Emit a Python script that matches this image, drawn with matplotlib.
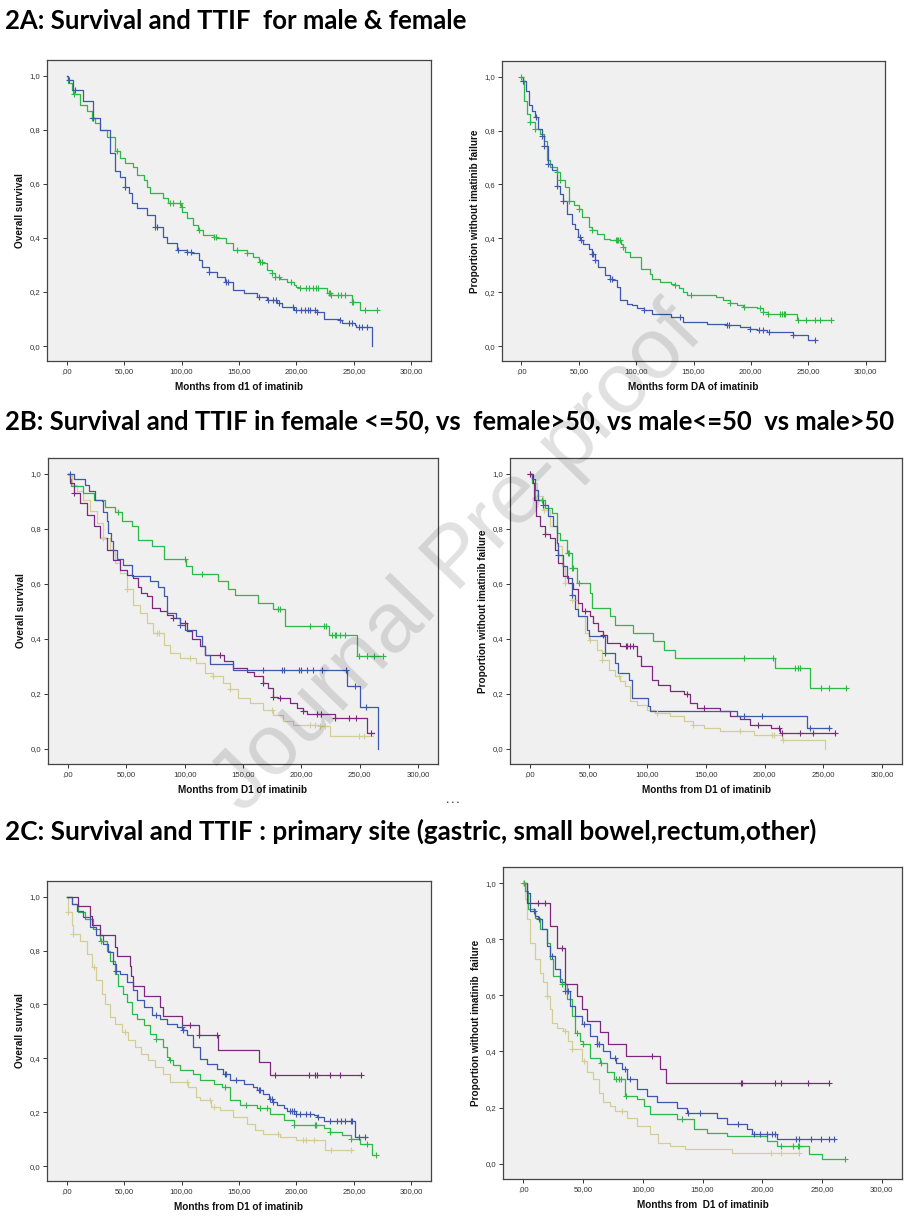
import numpy as np
import matplotlib
matplotlib.use('Agg')
import matplotlib.pyplot as plt

# ---------------- data ----------------
x_ticks = [0, 50, 100, 150, 200, 250, 300]
x_tick_labels = [',00', '50,00', '100,00', '150,00', '200,00', '250,00', '300,00']
y_ticks = [0.0, 0.2, 0.4, 0.6, 0.8, 1.0]
y_tick_labels = ['0,0', '0,2', '0,4', '0,6', '0,8', '1,0']

headings = ['2A: Survival and TTIF  for male & female',
            '2B: Survival and TTIF in female <=50, vs  female>50, vs male<=50  vs male>50',
            '2C: Survival and TTIF : primary site (gastric, small bowel,rectum,other)']

# 2A left: overall survival, male (blue) / female (green)
a_os_blue_t = [0, 1.5, 5.8, 14.5, 23, 29, 38, 42, 46.5, 51, 54, 56.6, 61, 70, 77, 84, 87, 96, 104.5, 109,
               115, 117.5, 123.5, 131, 138, 145, 154, 165.5, 174, 183, 187, 197.5, 218, 223.6, 238, 239.6, 251, 252, 266]
a_os_blue_s = [1.0, .985, .948, .905, .843, .80, .714, .646, .627, .59, .565, .528, .51, .485, .442, .405, .38, .355, .349, .343,
               .318, .294, .275, .257, .238, .207, .195, .183, .17, .158, .146, .133, .127, .10, .096, .086, .078, .069, 0.0]
a_os_blue_c = [2, 7, 23, 51, 77, 79, 97, 105, 108, 124, 139, 140, 167, 175, 180, 182, 185, 197, 200, 204, 207, 210,
               212, 216, 218, 238, 246, 248, 254, 257, 261]
a_os_green_t = [0, 1.5, 4.4, 6, 11.6, 17.4, 21.8, 24.7, 29, 35, 42, 46.5, 51, 58, 61, 67, 70, 72.6, 84, 88,
                99.5, 100.5, 104.5, 110, 114, 119, 128, 131, 139, 145, 157, 162.6, 167, 171, 174, 178.6, 181, 186, 192, 197.5,
                200, 203, 226.5, 229.4, 248, 255, 270]
a_os_green_s = [1.0, .973, .948, .932, .893, .868, .843, .825, .80, .775, .72, .695, .677, .664, .633, .615, .59, .565, .547, .528,
                .516, .497, .473, .448, .43, .411, .405, .399, .38, .356, .343, .331, .312, .306, .281, .269, .257, .25, .238, .226,
                .22, .214, .195, .189, .164, .133, .133]
a_os_green_c = [6.5, 22, 44, 90, 93, 99, 100, 115, 128, 130, 148, 157, 168, 170, 179, 181, 185, 195, 203, 208, 211, 214,
                217, 219, 228, 229, 230, 236, 239, 242, 248, 249, 260, 270]

# 2A right: time to imatinib failure
a_tf_blue_t = [0, 1.5, 3.5, 6.4, 9.3, 12, 14, 18, 20, 23, 26.7, 31, 34, 36, 40, 44, 47, 49, 51.4, 54,
               58.6, 61.5, 64.4, 67, 73, 77.5, 80, 83, 86, 92, 96, 100.7, 106.5, 114, 130, 141, 161.6, 179, 190.6, 199,
               205, 214, 237, 250, 256]
a_tf_blue_s = [1.0, .985, .948, .893, .874, .85, .806, .78, .744, .677, .652, .596, .565, .54, .49, .454, .436, .405, .395, .38,
               .362, .343, .318, .294, .263, .25, .244, .22, .17, .158, .152, .14, .133, .121, .109, .09, .084, .078, .072, .065,
               .059, .053, .04, .022, .022]
a_tf_blue_c = [1.5, 13, 18, 20, 23, 31, 36, 51, 52, 61.5, 62, 64.4, 77.5, 79, 106.5, 138, 179, 181, 199, 207, 211, 216, 237, 256]
a_tf_green_t = [0, 1.2, 2.6, 5, 7.8, 12, 16.5, 19.4, 22, 25, 31, 34, 38, 41, 45.5, 50, 53, 58.6, 61.5, 66,
                71.7, 77.5, 87, 88.5, 90.5, 95, 104.5, 112, 114, 121, 130, 134, 137, 141, 144, 170, 176, 182, 187.7, 193.5,
                205, 211, 215, 240.5, 270]
a_tf_green_s = [1.0, .985, .91, .86, .83, .806, .788, .763, .689, .664, .646, .615, .59, .54, .522, .51, .479, .442, .432, .417,
                .399, .393, .38, .368, .349, .331, .288, .269, .25, .238, .232, .226, .214, .201, .19, .183, .17, .16, .152, .146,
                .14, .127, .118, .096, .096]
a_tf_green_c = [0, 1.2, 7.8, 12, 31, 34, 41, 50, 61.5, 82, 83, 84, 86, 88.5, 134, 148, 182, 194, 208, 211, 215, 225, 227,
                229, 230, 241, 248, 256, 260, 270]

# 2B left: overall survival by sex and age group
b_os_green_t = [0, 2, 3, 13.4, 22, 32, 40, 46, 55, 60.5, 72, 82, 101, 106, 129, 137.5, 143, 163, 176, 186, 224, 248, 270]
b_os_green_s = [1.0, .98, .955, .93, .905, .88, .862, .83, .81, .76, .737, .689, .664, .636, .612, .58, .558, .53, .507, .446,
                .416, .337, .337]
b_os_green_c = [43, 100, 115, 180, 182, 207, 219, 221, 226, 229, 230, 233, 237, 249, 256, 262, 270]
b_os_blue_t = [0, 5, 15, 17.7, 23.4, 29, 30.5, 33.4, 34.8, 37, 39, 42, 47.6, 54.8, 70, 77.6, 82, 84.7, 93, 96,
               100, 110, 114.6, 117.5, 121.8, 141.7, 239, 250, 266]
b_os_blue_s = [1.0, .982, .96, .937, .905, .9, .862, .83, .786, .755, .725, .689, .67, .628, .61, .59, .555, .495, .476, .452,
               .434, .41, .373, .343, .307, .288, .23, .153, 0.0]
b_os_blue_c = [1.5, 96, 167, 183, 185, 198, 200, 205, 210, 218, 238, 246, 255]
b_os_purple_t = [0, 2, 5, 10.6, 16, 22, 27.7, 33.4, 39, 44.8, 50.5, 56, 60.5, 63, 67.6, 72, 79, 84.7, 90.4, 96,
                 102, 106, 113, 117.5, 134, 141.7, 153, 159, 167.4, 171.7, 176, 180, 190, 196, 201.6, 204.5, 229, 255.8, 262]
b_os_purple_s = [1.0, .967, .93, .895, .852, .81, .767, .725, .688, .652, .634, .622, .59, .567, .555, .513, .5, .488, .476, .458,
                 .43, .4, .373, .343, .319, .295, .279, .264, .24, .222, .19, .185, .167, .149, .137, .128, .113, .058, .058]
b_os_purple_c = [5, 90.4, 100, 130, 167.4, 176, 181.7, 201.6, 213, 217, 229, 241, 247, 260]
b_os_beige_t = [0, 3.4, 7.7, 13.4, 19, 24.8, 30.5, 36, 40.5, 44.8, 50.5, 56, 62, 67.6, 73.3, 82, 87.6, 96, 110, 117.5,
                124.6, 133, 139, 146, 156, 167.4, 176, 184.5, 193, 216, 224.5, 261.5]
b_os_beige_s = [1.0, .96, .937, .905, .864, .822, .767, .725, .676, .64, .58, .525, .495, .458, .42, .379, .349, .33, .313, .276,
                .264, .24, .216, .185, .167, .143, .125, .1, .088, .082, .048, .048]
b_os_beige_c = [30.5, 50.5, 76, 78, 104.7, 124.6, 139, 175, 207, 212, 216, 220, 249, 254]

# 2B right: time to imatinib failure by sex and age group
b_tf_green_t = [0, 1.4, 4.3, 12.8, 18.5, 22.7, 25.6, 31.3, 35.5, 40, 51, 52.6, 68.3, 72.5, 88, 105, 113.8, 123.7, 209, 239, 270]
b_tf_green_s = [1.0, .967, .907, .876, .858, .785, .761, .713, .658, .603, .567, .513, .482, .452, .422, .392, .361, .331, .295,
                .222, .222]
b_tf_green_c = [0, 10, 32, 33, 36, 37, 42, 182, 207, 226, 228, 230, 248, 255, 269]
b_tf_blue_t = [0, 1.4, 4.3, 7, 11.4, 15.6, 20, 22.7, 24, 28.4, 31.3, 35.5, 38.4, 41, 48.4, 50, 64, 72.5, 75, 84,
               86.7, 101, 102.4, 176, 236, 256]
b_tf_blue_s = [1.0, .98, .943, .907, .888, .846, .81, .75, .707, .664, .622, .561, .507, .482, .434, .41, .349, .313, .276, .252,
               .185, .155, .137, .119, .076, .076]
b_tf_blue_c = [11.4, 24, 35.5, 64, 182, 198, 239, 255]
b_tf_purple_t = [0, 2.3, 3.4, 5, 8.5, 12.8, 17, 21.3, 24, 28.4, 32.7, 37, 41, 44, 51, 54, 58.3, 62.6, 65.4, 76.8,
                 91, 95, 103.8, 109.5, 119.5, 131, 136.5, 142, 162, 170.6, 179, 187.7, 205, 213, 260]
b_tf_purple_s = [1.0, .967, .907, .846, .81, .78, .767, .725, .676, .628, .604, .58, .53, .5, .482, .458, .428, .416, .385, .373,
                 .337, .3, .252, .234, .21, .198, .167, .149, .137, .119, .107, .088, .076, .058, .058]
b_tf_purple_c = [0, 13, 47, 62.6, 82, 83, 85, 88, 134, 148, 194, 212, 215, 230, 241, 260]
b_tf_beige_t = [0, 1.4, 5.7, 11.4, 17, 22.7, 27, 30, 35.5, 41, 47, 50, 57, 61, 67, 72.5, 77, 81, 85.3, 91,
                99.5, 106.6, 119.4, 131, 139, 148, 162, 190.5, 214.7, 251.7]
b_tf_beige_s = [1.0, .967, .919, .87, .81, .737, .664, .603, .543, .482, .422, .397, .361, .325, .288, .264, .246, .228, .173, .161,
                .143, .131, .119, .1, .088, .076, .064, .052, .034, 0.0]
b_tf_beige_c = [12, 30, 36, 51, 61, 76, 108, 139, 179, 206, 208, 216]

# 2C left: overall survival by primary site
c_os_purple_t = [0, 10, 20, 22, 29, 42, 43.6, 55, 56, 58, 67, 81, 84, 100, 115, 132, 167, 177, 256]
c_os_purple_s = [1.0, .967, .93, .893, .856, .812, .781, .744, .707, .67, .63, .59, .558, .522, .485, .432, .386, .337, .337]
c_os_purple_c = [107, 115, 131, 181, 211, 216, 218, 229, 238, 256]
c_os_blue_t = [0, 4.4, 8.7, 14.5, 20.3, 26, 32, 36.3, 40.7, 43, 46.5, 52.3, 58, 61, 67, 74, 81, 87, 96, 101,
               104.5, 110, 116, 122, 131, 136.5, 142, 154, 162.6, 165.5, 171, 176, 180, 183, 189, 192, 200, 215, 218, 224,
               250.5, 261]
c_os_blue_s = [1.0, .973, .948, .923, .886, .856, .825, .794, .75, .725, .712, .683, .652, .615, .59, .56, .547, .528, .516, .507,
               .485, .442, .399, .38, .362, .343, .318, .306, .294, .281, .269, .25, .238, .226, .214, .205, .195, .189, .183, .167,
               .109, .109]
c_os_blue_c = [43, 78, 100, 101, 138, 139, 147, 167, 168, 177, 179, 180, 194, 196, 198, 200, 203, 208, 212, 219, 229, 235,
               239, 242, 247, 248, 254, 260]
c_os_green_t = [0, 4.4, 10, 16, 23, 29, 35, 37.8, 42, 45, 49.4, 52.3, 56.6, 61, 67, 72.6, 78, 84, 87, 89,
                93, 99, 110, 116, 128, 135, 142, 151, 165.5, 177, 189, 197.5, 223.6, 229.4, 240, 247, 255.6, 265.7, 269]
c_os_green_s = [1.0, .973, .942, .917, .88, .837, .8, .763, .713, .67, .64, .609, .565, .547, .522, .49, .473, .442, .405, .395,
                .374, .356, .343, .318, .306, .294, .244, .226, .214, .195, .17, .152, .14, .127, .115, .102, .084, .04, .04]
c_os_green_c = [30, 78, 90, 138, 156, 168, 174, 198, 216, 217, 229.4, 247, 261, 269]
c_os_beige_t = [0, 1.5, 4.4, 5.5, 11.6, 17.4, 21.8, 26, 30.5, 33.4, 37.8, 42, 48, 53.7, 59.5, 65, 71, 77, 84, 90,
                106, 113, 116, 126, 133.6, 145, 157, 164, 171, 186, 200, 225, 248]
c_os_beige_s = [1.0, .942, .893, .862, .837, .788, .738, .689, .64, .6, .553, .528, .497, .467, .442, .417, .393, .368, .343, .312,
                .294, .257, .244, .22, .207, .183, .158, .133, .121, .109, .096, .059, .059]
c_os_beige_c = [1.5, 6, 24, 51, 105, 125, 128, 184, 206, 208, 215, 230, 247]

# 2C right: time to imatinib failure by primary site
c_tf_purple_t = [0, 3.4, 22.4, 28.5, 35, 44.7, 49, 53, 64.3, 70.5, 86, 114.6, 119.7, 256]
c_tf_purple_s = [1.0, .93, .848, .77, .639, .598, .55, .509, .47, .428, .384, .337, .289, .289]
c_tf_purple_c = [12, 18, 32, 108, 182, 183, 211, 216, 238, 256]
c_tf_blue_t = [0, 2.8, 5.6, 9.8, 12.6, 15.4, 19.6, 22.4, 26.6, 30.8, 35, 39, 43, 49, 56, 61.5, 67, 72.7, 78, 82.5,
               86.7, 95, 103.5, 112, 128.6, 137, 162, 170.5, 187, 191.5, 212.5, 261]
c_tf_blue_s = [1.0, .967, .901, .883, .871, .836, .776, .741, .693, .646, .616, .562, .527, .497, .455, .426, .402, .378, .36, .336,
               .3, .265, .241, .218, .2, .182, .164, .14, .122, .105, .087, .087]
c_tf_blue_c = [9, 13, 24, 35, 37, 51, 61.5, 63, 77, 85, 89, 138, 148, 180, 193, 198, 204, 208, 211, 228, 231, 241, 249, 256, 260]
c_tf_green_t = [0, 1.4, 4.2, 9.8, 14, 19.6, 22.4, 25, 30.8, 32, 36.4, 40.5, 43.3, 47.5, 50, 56, 64.3, 70, 75.5, 85.3,
                95, 100.7, 106, 128.6, 142.6, 153.8, 170.6, 204, 212.5, 239, 250, 269]
c_tf_green_s = [1.0, .973, .907, .877, .836, .788, .729, .67, .658, .64, .586, .527, .467, .438, .426, .378, .36, .325, .3, .241,
                .23, .206, .176, .158, .122, .11, .099, .081, .063, .033, .018, .018]
c_tf_green_c = [0.8, 32, 45, 50, 65, 78, 80, 82, 86, 133, 216, 226, 230, 231, 269]
c_tf_beige_t = [0, 1.4, 2.8, 5.6, 9.8, 14, 16.8, 19.6, 22.4, 23.8, 28, 33.5, 37.7, 40.5, 49, 53, 58.7, 63, 67, 72.7,
                77, 86.7, 95, 106, 113, 123, 135.6, 174.8, 231]
c_tf_beige_s = [1.0, .943, .872, .788, .729, .681, .646, .598, .551, .503, .485, .473, .438, .408, .366, .325, .301, .253, .218, .206,
                .188, .164, .134, .105, .075, .063, .051, .039, .039]
c_tf_beige_c = [0, 20, 35, 41, 51, 83, 207, 216, 231]

# ---------------- style ----------------
BLUE = '#3E58AC'
GREEN = '#2EB848'
BEIGE = '#D3CE97'
PURPLE = '#7C287D'

W, H = 909, 1217
fig = plt.figure(figsize=(W / 100, H / 100), dpi=100)
fig.patch.set_facecolor('white')


def px_axes(L, T, R, B):
    return fig.add_axes([L / W, 1 - B / H, (R - L) / W, (B - T) / H])


def km(ax, t, s, c, color):
    t = np.asarray(t, float)
    s = np.asarray(s, float)
    ax.step(t, s, where='post', color=color, lw=0.9, zorder=3)
    c = np.asarray(c, float)
    idx = np.clip(np.searchsorted(t, c, side='right') - 1, 0, len(s) - 1)
    ax.plot(c, s[idx], linestyle='none', marker='+', ms=5, mew=0.8, color=color, zorder=4)


def style(ax, xlabel, ylabel):
    ax.set_facecolor('#F0F0F0')
    ax.set_xlim(-17, 317)
    ax.set_ylim(-0.055, 1.058)
    ax.set_xticks(x_ticks)
    ax.set_xticklabels(x_tick_labels, family='Liberation Sans')
    ax.set_yticks(y_ticks)
    ax.set_yticklabels(y_tick_labels, family='Liberation Sans')
    ax.tick_params(direction='out', length=3, width=0.7, labelsize=5.6, colors='#333333', pad=2)
    for sp in ax.spines.values():
        sp.set_color('#444444')
        sp.set_linewidth(0.9)
    bb = ax.get_position()
    hpx = bb.height * H
    wpx = bb.width * W
    ax.set_xlabel(xlabel, fontsize=7.2, fontweight='bold', family='Liberation Sans', color='#111111')
    ax.set_ylabel(ylabel, fontsize=7.2, fontweight='bold', family='Liberation Sans', color='#111111')
    ax.xaxis.set_label_coords(0.5, -26 / hpx)
    ax.xaxis.label.set_va('center')
    ax.yaxis.set_label_coords(-27 / wpx, 0.5)
    ax.yaxis.label.set_va('center')
    ax.yaxis.label.set_ha('center')


# panel frames in pixel coordinates (left, top, right, bottom)
ax1 = px_axes(47, 60, 431, 361)
km(ax1, a_os_green_t, a_os_green_s, a_os_green_c, GREEN)
km(ax1, a_os_blue_t, a_os_blue_s, a_os_blue_c, BLUE)
style(ax1, 'Months from d1 of imatinib', 'Overall survival')

ax2 = px_axes(502, 61, 885, 361)
km(ax2, a_tf_green_t, a_tf_green_s, a_tf_green_c, GREEN)
km(ax2, a_tf_blue_t, a_tf_blue_s, a_tf_blue_c, BLUE)
style(ax2, 'Months form DA of imatinib', 'Proportion without imatinib failure')

ax3 = px_axes(48, 458, 438, 764)
km(ax3, b_os_beige_t, b_os_beige_s, b_os_beige_c, BEIGE)
km(ax3, b_os_green_t, b_os_green_s, b_os_green_c, GREEN)
km(ax3, b_os_purple_t, b_os_purple_s, b_os_purple_c, PURPLE)
km(ax3, b_os_blue_t, b_os_blue_s, b_os_blue_c, BLUE)
style(ax3, 'Months from D1 of imatinib', 'Overall survival')

ax4 = px_axes(510, 458, 902, 764)
km(ax4, b_tf_beige_t, b_tf_beige_s, b_tf_beige_c, BEIGE)
km(ax4, b_tf_green_t, b_tf_green_s, b_tf_green_c, GREEN)
km(ax4, b_tf_purple_t, b_tf_purple_s, b_tf_purple_c, PURPLE)
km(ax4, b_tf_blue_t, b_tf_blue_s, b_tf_blue_c, BLUE)
style(ax4, 'Months from D1 of imatinib', 'Proportion without imatinib failure')

ax5 = px_axes(47, 881, 431, 1181)
km(ax5, c_os_beige_t, c_os_beige_s, c_os_beige_c, BEIGE)
km(ax5, c_os_green_t, c_os_green_s, c_os_green_c, GREEN)
km(ax5, c_os_blue_t, c_os_blue_s, c_os_blue_c, BLUE)
km(ax5, c_os_purple_t, c_os_purple_s, c_os_purple_c, PURPLE)
style(ax5, 'Months from D1 of imatinib', 'Overall survival')

ax6 = px_axes(503, 867, 902, 1179)
km(ax6, c_tf_beige_t, c_tf_beige_s, c_tf_beige_c, BEIGE)
km(ax6, c_tf_green_t, c_tf_green_s, c_tf_green_c, GREEN)
km(ax6, c_tf_blue_t, c_tf_blue_s, c_tf_blue_c, BLUE)
km(ax6, c_tf_purple_t, c_tf_purple_s, c_tf_purple_c, PURPLE)
style(ax6, 'Months from  D1 of imatinib', 'Proportion without imatinib  failure')

# headings, fitted to the reference widths
head_y = [21, 421, 831]
head_w = [462, 893, 813]
renderer = fig.canvas.get_renderer()
for txt, yy, ww in zip(headings, head_y, head_w):
    t = fig.text(5 / W, 1 - yy / H, txt, fontsize=17, fontweight='bold', family='Lato',
                 ha='left', va='center', color='black')
    w0 = t.get_window_extent(renderer).width
    t.set_fontsize(17 * ww / w0)

fig.text(453 / W, 1 - 803 / H, '• • •', fontsize=4, ha='center', va='center', color='#333333')

# watermark
fig.text(458 / W, 1 - 560 / H, 'Journal Pre-proof', fontsize=62, color='black', alpha=0.12,
         rotation=46, ha='center', va='center', rotation_mode='anchor', family='Liberation Sans', zorder=10)

fig.savefig('out.png', dpi=100)
